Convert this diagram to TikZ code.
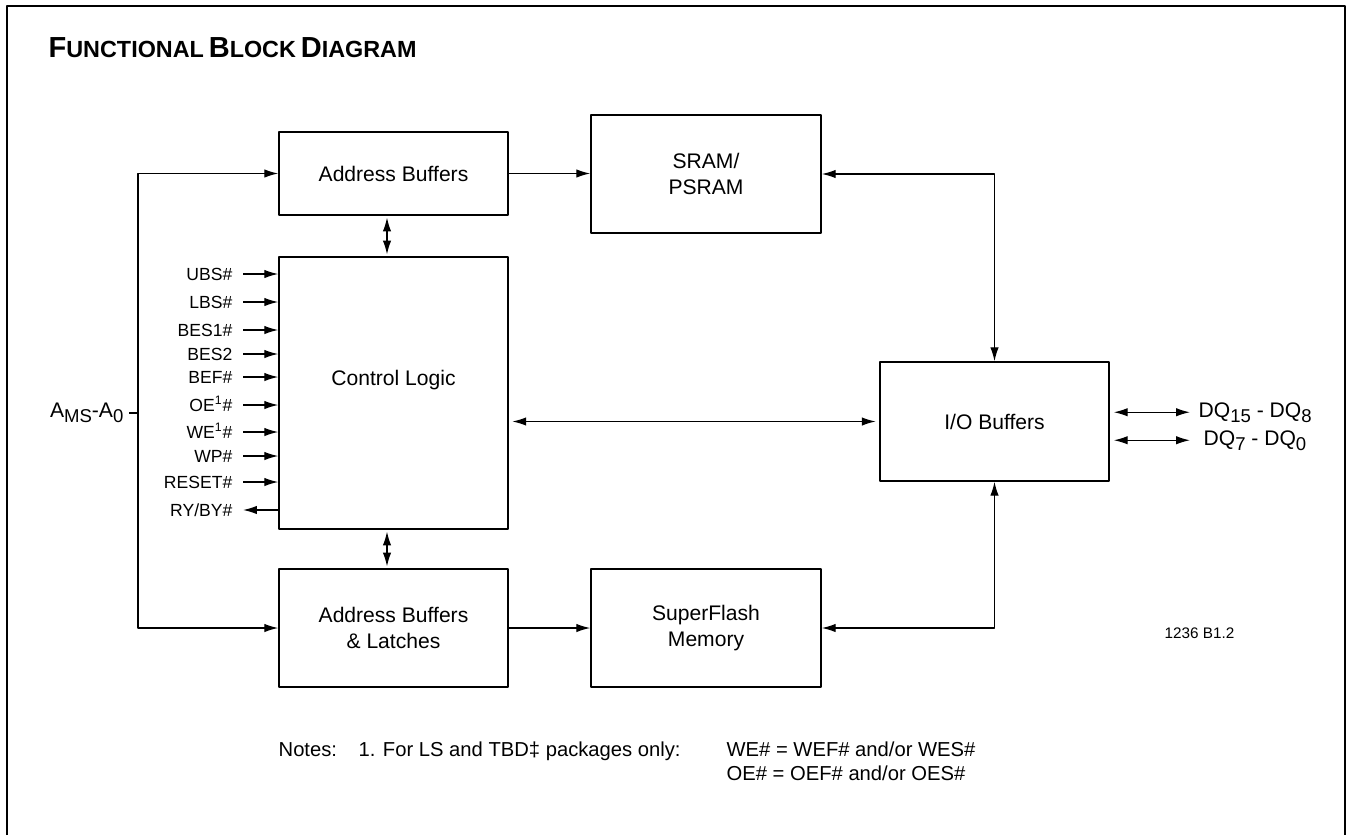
\documentclass[tikz,border=0pt]{standalone}
\usepackage{fontspec}
\setmainfont{Liberation Sans}
\usetikzlibrary{arrows.meta}
\newcommand{\lo}[1]{\raisebox{-0.45ex}{\scalebox{0.88}{#1}}}
\newcommand{\fakesc}[2]{{\fontsize{16.5}{18}\selectfont #1}{\fontsize{13.3}{14}\selectfont #2}}
\begin{document}
\begin{tikzpicture}[>={Latex[length=2.8mm,width=1.7mm]},line join=round,x=0.02cm,y=-0.02cm,line width=0.75pt,
	font=\fontsize{12}{14.5}\selectfont,
	blk/.style={draw,line width=0.85pt,minimum width=4.58cm,inner sep=0pt,align=center},
	sig/.style={anchor=east,inner sep=0pt,font=\fontsize{10}{12}\selectfont,text height=0.75em,text depth=0.05em},
	txt/.style={inner sep=0pt,anchor=base west}]
		\useasboundingbox (0,0) rectangle (1351,835);
		\draw[line width=1pt] (7,835)--(7,6)--(1345,6)--(1345,835);
		\node[txt,font=\bfseries] (title) at (48,57) {\fakesc{F}{UNCTIONAL} \fakesc{B}{LOCK} \fakesc{D}{IAGRAM}};
		% blocks
		\node[blk,minimum height=1.66cm] (addr) at (393.5,173.5) {Address Buffers};
		\node[blk,minimum width=4.6cm,minimum height=2.36cm] (sram) at (706,174) {SRAM/\\PSRAM};
		\node[blk,minimum height=5.44cm] (ctrl) at (393.5,393) {};
		\node (ctrltxt) at (393.5,380) {Control Logic};
		\node[blk,minimum height=2.36cm] (latch) at (393.5,628) {Address Buffers\\\& Latches};
		\node[blk,minimum width=4.6cm,minimum height=2.36cm] (flash) at (706,628) {SuperFlash\\Memory};
		\node[blk,minimum height=2.38cm] (io) at (994.5,421.5) {I/O Buffers};
		% address bus
		\coordinate (bus) at (138,413);
		\draw[<->] (addr.west)-|(bus)|-(latch.west);
		\node[txt,anchor=base east] (ams) at (124,417) {A\lo{MS}-A\lo{0}};
		\draw[shorten <=3pt] (ams.east|-bus)--(bus);
		% control inputs
		\foreach \s/\y [count=\i] in {UBS\#/274,LBS\#/302,BES1\#/330,BES2/354,BEF\#/377,OE\textsuperscript{1}\#/405,WE\textsuperscript{1}\#/432,WP\#/456,RESET\#/482}{
			\node[sig] (sig\i) at (233,\y) {\s};
			\draw[->] ([xshift=0.2cm]sig\i.east)--(sig\i.east-|ctrl.west);
		}
		\node[sig] (rdy) at (233,510) {RY/BY\#};
		\draw[<-] ([xshift=0.2cm]rdy.east)--(rdy.east-|ctrl.west);
		% connections
		\coordinate (vx) at (387,0);
		\draw[<->,shorten <=1pt,shorten >=1pt] (addr.south-|vx)--(ctrl.north-|vx);
		\draw[<->,shorten <=1pt,shorten >=1pt] (ctrl.south-|vx)--(latch.north-|vx);
		\draw[->] (addr.east)--(addr.east-|sram.west);
		\draw[->] (latch.east)--(flash.west);
		\draw[<->] (sram.east)-|(io.north);
		\draw[<->] (flash.east)-|(io.south);
		\draw[<->,shorten <=2pt,shorten >=2pt] (ctrl.east|-io.west)--(io.west);
		% data pins
		\node[txt] (dqhi) at (1198,417) {DQ\lo{15} - DQ\lo{8}};
		\node[txt] (dqlo) at (1203,445) {DQ\lo{7} - DQ\lo{0}};
		\coordinate (dqend) at (1190,0);
		\draw[<->] ([xshift=0.08cm]io.east|-dqhi.west)--(dqhi.west-|dqend);
		\draw[<->] ([xshift=0.08cm]io.east|-dqlo.west)--(dqlo.west-|dqend);
		\node[txt,font=\fontsize{8.7}{10}\selectfont] (figid) at (1164,638) {1236 B1.2};
		% notes
		\begin{scope}[font=\fontsize{11.5}{14}\selectfont]
		\node[txt] (notes) at (278,756) {Notes:};
		\node[txt] (note1) at (358,756) {1. For LS and TBD‡ packages only:};
		\node[txt] (wenote) at (726,756) {WE\# = WEF\# and/or WES\#};
		\node[txt] (oenote) at (726,780) {OE\# = OEF\# and/or OES\#};
		\end{scope}
\end{tikzpicture}
\end{document}
